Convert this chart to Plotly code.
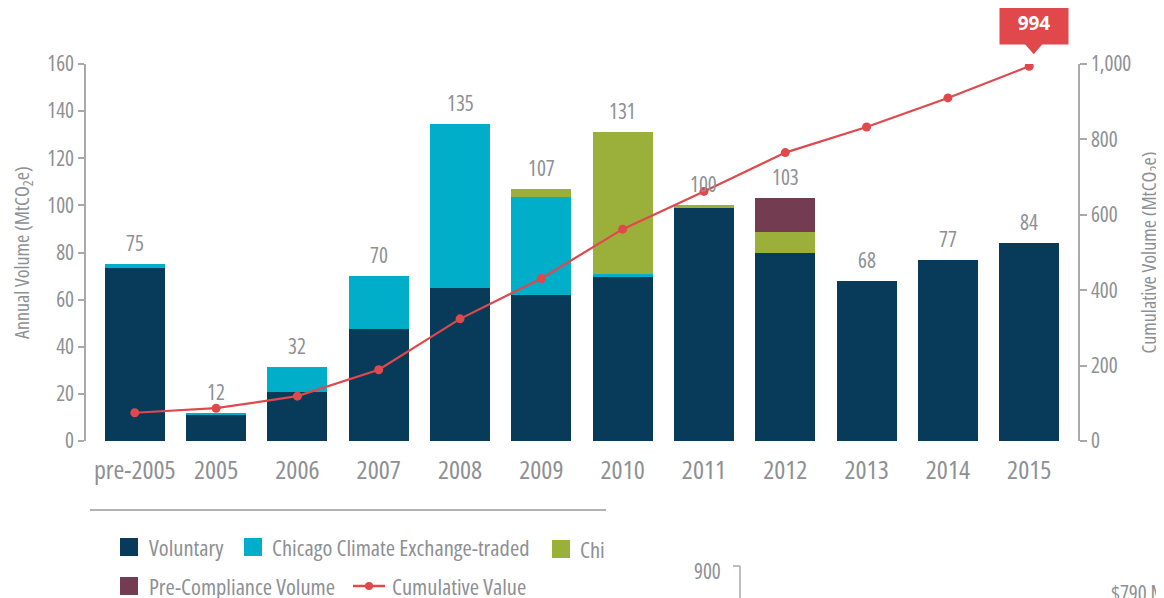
import plotly.graph_objects as go

categories = ["pre-2005", "2005", "2006", "2007", "2008", "2009", "2010", "2011", "2012", "2013", "2014", "2015"]
voluntary = [73.5, 11, 21, 47.5, 65, 62, 69.5, 99, 80, 68, 77, 84]
ccx_traded = [1.5, 1, 10.5, 22.5, 69.5, 41.5, 1.5, 0, 0, 0, 0, 0]
ccx_other = [0, 0, 0, 0, 0, 3.5, 60, 1, 8.5, 0, 0, 0]
pre_compliance = [0, 0, 0, 0, 0, 0, 0, 0, 14.5, 0, 0, 0]
total_labels = [75, 12, 32, 70, 135, 107, 131, 100, 103, 68, 77, 84]
cumulative = [75, 87, 119, 189, 324, 431, 562, 662, 765, 833, 910, 994]
left_ticks = [0, 20, 40, 60, 80, 100, 120, 140, 160]
right_ticks = [0, 200, 400, 600, 800, 1000]

C_VOL = "#083b5a"
C_CCX = "#00aec9"
C_GRN = "#9bb03a"
C_PC = "#733c50"
C_RED = "#e0484c"
C_TXT = "#8d9094"
C_AX = "#a7a9ac"
FONT = "Open Sans, Roboto, sans-serif"

OFF = 8  # page body margin
W, H = 1164 - OFF, 598 - OFF
ML, MR, MT, MB = 86 - OFF, 86, 64 - OFF, 157
PW, PH = W - ML - MR, H - MT - MB
XR = [-0.6, 11.6]
Y2R = [0, 1000]


def cs(t):
    return '<span style="font-stretch:condensed">%s</span>' % t


def px2x(px):
    return (px - OFF - ML) / PW


def py2y(py):
    return (H - MB - (py - OFF)) / PH


fig = go.Figure()
for name, vals, col in [
    ("Voluntary", voluntary, C_VOL),
    ("Chicago Climate Exchange-traded", ccx_traded, C_CCX),
    ("Chicago Climate Exchange Offsets", ccx_other, C_GRN),
    ("Pre-Compliance Volume", pre_compliance, C_PC),
]:
    fig.add_trace(go.Bar(x=categories, y=vals, name=name, marker=dict(color=col, line=dict(width=0)),
                         showlegend=False, hoverinfo="skip"))

fig.add_trace(go.Scatter(x=categories, y=cumulative, yaxis="y2", mode="lines+markers",
                         name="Cumulative Value", line=dict(color=C_RED, width=2.2),
                         marker=dict(color=C_RED, size=9), showlegend=False, hoverinfo="skip"))

annotations = []
for i, (t, v, cc, g, p) in enumerate(zip(total_labels, voluntary, ccx_traded, ccx_other, pre_compliance)):
    annotations.append(dict(x=i, y=v + cc + g + p, xref="x", yref="y", text=cs(str(t)), showarrow=False,
                            yshift=21, font=dict(family=FONT, size=21, color=C_TXT)))

last = len(categories) - 1
# callout box for last cumulative value
annotations.append(dict(x=last, y=cumulative[-1], xref="x", yref="y2",
                        text="<b>%d</b>" % cumulative[-1], showarrow=False, xshift=5, yshift=43,
                        bgcolor=C_RED, width=66, height=40, borderpad=1, align="center", valign="middle",
                        font=dict(family="Open Sans, sans-serif", size=19, color="white")))
# pointer of the callout (paper coords derived from the last data point)
pt_x = (last - XR[0]) / (XR[1] - XR[0])
pt_y = (cumulative[-1] - Y2R[0]) / (Y2R[1] - Y2R[0])
dx, dy = 1.0 / PW, 1.0 / PH
tri = "M %f,%f L %f,%f L %f,%f Z" % (pt_x + (-5) * dx, pt_y + 23 * dy, pt_x + 14 * dx, pt_y + 23 * dy,
                                     pt_x + 4.5 * dx, pt_y + 12 * dy)

shapes = [
    dict(type="path", xref="paper", yref="paper", path=tri, fillcolor=C_RED, line=dict(width=0), layer="above"),
    # divider line
    dict(type="line", xref="paper", yref="paper", x0=px2x(90), x1=px2x(606), y0=py2y(510), y1=py2y(510),
         line=dict(color="#b3b3b3", width=2)),
]

# custom legend
leg_items = [
    (120, 547, C_VOL, "Voluntary", 147),
    (244, 547, C_CCX, "Chicago Climate Exchange-traded", 270),
    (552, 549, C_GRN, "Chi", 578),
    (120, 586, C_PC, "Pre-Compliance Volume", 147),
]
for sx, sy, col, txt, tx in leg_items:
    shapes.append(dict(type="rect", xref="paper", yref="paper", x0=px2x(sx), x1=px2x(sx + 18),
                       y0=py2y(sy - 9), y1=py2y(sy + 9), fillcolor=col, line=dict(width=0)))
    annotations.append(dict(x=px2x(tx), y=py2y(sy), xref="paper", yref="paper", text=cs(txt), showarrow=False,
                            xanchor="left", yanchor="middle", font=dict(family=FONT, size=22.5, color=C_TXT)))
shapes.append(dict(type="line", xref="paper", yref="paper", x0=px2x(353), x1=px2x(385),
                   y0=py2y(586), y1=py2y(586), line=dict(color=C_RED, width=2.5)))
shapes.append(dict(type="circle", xref="paper", yref="paper", x0=px2x(365), x1=px2x(373),
                   y0=py2y(590), y1=py2y(582), fillcolor=C_RED, line=dict(width=0)))
annotations.append(dict(x=px2x(390), y=py2y(586), xref="paper", yref="paper", text=cs("Cumulative Value"),
                        showarrow=False, xanchor="left", yanchor="middle",
                        font=dict(family=FONT, size=22.5, color=C_TXT)))

# remnants of adjacent chart
annotations.append(dict(x=px2x(723), y=py2y(571), xref="paper", yref="paper", text=cs("900"), showarrow=False,
                        xanchor="right", yanchor="middle", font=dict(family=FONT, size=21, color=C_TXT)))
shapes.append(dict(type="line", xref="paper", yref="paper", x0=px2x(733), x1=px2x(740),
                   y0=py2y(566), y1=py2y(566), line=dict(color=C_AX, width=1.5)))
shapes.append(dict(type="line", xref="paper", yref="paper", x0=px2x(740), x1=px2x(740),
                   y0=py2y(566), y1=py2y(600), line=dict(color=C_AX, width=1.5)))
annotations.append(dict(x=px2x(1109), y=py2y(593), xref="paper", yref="paper", text=cs("$790 M"),
                        showarrow=False, xanchor="left", yanchor="middle",
                        font=dict(family=FONT, size=21, color=C_TXT)))

fig.update_layout(
    width=W, height=H,
    margin=dict(l=ML, r=MR, t=MT, b=MB, autoexpand=False),
    barmode="stack", bargap=0.262,
    plot_bgcolor="white", paper_bgcolor="white",
    showlegend=False,
    font=dict(family=FONT, color=C_TXT),
    xaxis=dict(type="category", range=XR, showline=False, showgrid=False, zeroline=False,
               ticks="", tickangle=0, tickvals=categories, ticktext=[cs(c) for c in categories],
               tickfont=dict(family=FONT, size=26, color=C_TXT), ticklabelstandoff=11),
    yaxis=dict(range=[0, 160], tickvals=left_ticks, ticktext=[cs(str(v)) for v in left_ticks],
               showgrid=False, zeroline=False, showline=True,
               linecolor=C_AX, linewidth=1.5, ticks="outside", ticklen=6, tickcolor=C_AX, tickwidth=1.5,
               tickfont=dict(family=FONT, size=21, color=C_TXT),
               title=dict(text=cs("Annual Volume (MtCO<sub>2</sub>e)"), standoff=13,
                          font=dict(family=FONT, size=20, color=C_TXT))),
    yaxis2=dict(range=Y2R, tickvals=right_ticks, ticktext=[cs(f"{v:,}") for v in right_ticks],
                overlaying="y", side="right",
                showgrid=False, zeroline=False, showline=True, linecolor=C_AX, linewidth=1.5,
                ticks="outside", ticklen=7, tickcolor=C_AX, tickwidth=1.5,
                tickfont=dict(family=FONT, size=21, color=C_TXT),
                title=dict(text=cs("Cumulative Volume (MtCO<sub>2</sub>e)"), standoff=13,
                           font=dict(family=FONT, size=20, color=C_TXT))),
    annotations=annotations,
    shapes=shapes,
)

fig.write_html("out.html")
